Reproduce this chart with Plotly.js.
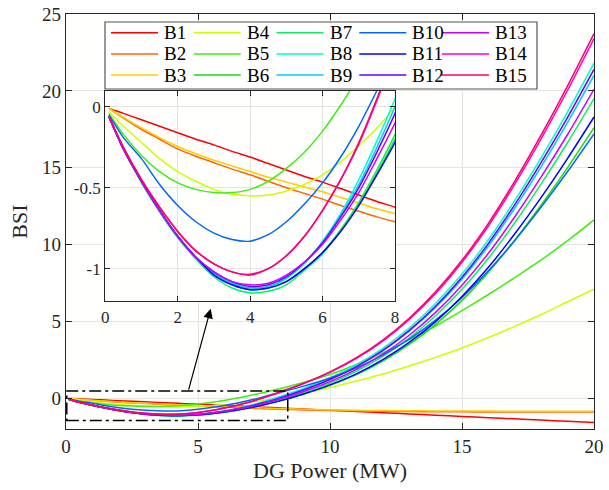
<!DOCTYPE html>
<html>
<head>
<meta charset="utf-8">
<script src="https://cdn.plot.ly/plotly-3.0.1.min.js"></script>
<style>
  html, body { margin: 0; padding: 0; background: #ffffff; }
  #chart { width: 609px; height: 490px; }
</style>
</head>
<body>
<div id="chart"></div>
<script>
// DG power sample points (MW)
const power = [0.1, 0.5, 1, 1.5, 2, 2.5, 3, 3.5, 4, 4.5, 5, 5.5, 6, 6.5, 7, 7.5, 8,
               9, 10, 11, 12, 13, 14, 15, 16, 17, 18, 19, 20];

const busNames = ['B1','B2','B3','B4','B5','B6','B7','B8','B9','B10','B11','B12','B13','B14','B15'];

const busColors = ['#ff0000','#ff6600','#ffcc00','#ccff00','#40ee10','#10e010','#10ee60','#00ffcc',
                   '#00ccff','#0066ff','#0000ff','#6600ff','#cc00ff','#ff00cc','#ff0066'];

// BSI of each bus versus DG power
const bsiB1  = [-0.01,-0.04,-0.08,-0.12,-0.16,-0.20,-0.235,-0.275,-0.31,-0.35,-0.39,-0.43,-0.465,-0.505,-0.545,-0.585,-0.62,
                -0.70,-0.78,-0.86,-0.94,-1.02,-1.10,-1.18,-1.26,-1.34,-1.42,-1.50,-1.58];
const bsiB2  = [-0.01,-0.07,-0.14,-0.20,-0.26,-0.305,-0.345,-0.385,-0.42,-0.46,-0.50,-0.535,-0.57,-0.61,-0.645,-0.68,-0.71,
                -0.76,-0.80,-0.83,-0.85,-0.865,-0.875,-0.885,-0.89,-0.895,-0.90,-0.90,-0.90];
const bsiB3  = [-0.01,-0.065,-0.13,-0.19,-0.245,-0.29,-0.33,-0.365,-0.40,-0.435,-0.465,-0.495,-0.525,-0.56,-0.595,-0.63,-0.66,
                -0.71,-0.75,-0.78,-0.80,-0.815,-0.825,-0.83,-0.835,-0.84,-0.84,-0.845,-0.845];
const bsiB4  = [-0.03,-0.12,-0.22,-0.32,-0.40,-0.46,-0.51,-0.54,-0.55,-0.545,-0.52,-0.48,-0.42,-0.34,-0.24,-0.13,0.00,
                0.33,0.70,1.12,1.58,2.10,2.66,3.27,3.95,4.68,5.45,6.28,7.10];
const bsiB5  = [-0.04,-0.17,-0.30,-0.40,-0.47,-0.51,-0.53,-0.53,-0.51,-0.46,-0.38,-0.28,-0.15,0.01,0.19,0.38,0.58,
                1.02,1.55,2.20,2.95,3.80,4.70,5.70,6.75,7.85,9.00,10.25,11.60];
const bsiB6  = [-0.06,-0.26,-0.46,-0.64,-0.80,-0.93,-1.03,-1.10,-1.13,-1.12,-1.08,-1.00,-0.90,-0.76,-0.60,-0.41,-0.20,
                0.28,0.84,1.54,2.42,3.50,4.81,6.37,8.20,10.29,12.58,15.01,17.60];
const bsiB7  = [-0.06,-0.26,-0.47,-0.65,-0.81,-0.94,-1.05,-1.12,-1.15,-1.14,-1.10,-1.01,-0.91,-0.76,-0.59,-0.39,-0.17,
                0.36,0.98,1.76,2.72,3.92,5.37,7.09,9.11,11.42,13.95,16.64,19.50];
const bsiB8  = [-0.06,-0.26,-0.46,-0.64,-0.80,-0.93,-1.04,-1.10,-1.13,-1.12,-1.06,-0.97,-0.83,-0.66,-0.45,-0.21,0.05,
                0.64,1.32,2.18,3.25,4.57,6.17,8.08,10.31,12.87,15.66,18.64,21.80];
const bsiB9  = [-0.06,-0.26,-0.46,-0.64,-0.80,-0.93,-1.03,-1.09,-1.12,-1.11,-1.06,-0.96,-0.84,-0.67,-0.48,-0.25,0.00,
                0.57,1.23,2.06,3.09,4.37,5.91,7.75,9.91,12.38,15.07,17.95,21.00];
const bsiB10 = [-0.05,-0.19,-0.32,-0.48,-0.61,-0.71,-0.78,-0.82,-0.83,-0.79,-0.71,-0.60,-0.47,-0.31,-0.12,0.10,0.33,
                0.79,1.32,1.98,2.81,3.84,5.08,6.56,8.29,10.27,12.44,14.75,17.20];
const bsiB11 = [-0.06,-0.26,-0.46,-0.64,-0.80,-0.93,-1.04,-1.10,-1.13,-1.12,-1.08,-1.00,-0.90,-0.77,-0.61,-0.42,-0.22,
                0.28,0.87,1.59,2.51,3.63,4.99,6.62,8.52,10.70,13.07,15.61,18.30];
const bsiB12 = [-0.06,-0.26,-0.46,-0.64,-0.80,-0.93,-1.02,-1.08,-1.11,-1.10,-1.05,-0.96,-0.84,-0.68,-0.50,-0.28,-0.04,
                0.54,1.22,2.06,3.11,4.42,5.99,7.87,10.08,12.60,15.35,18.28,21.40];
const bsiB13 = [-0.06,-0.26,-0.46,-0.64,-0.80,-0.93,-1.02,-1.08,-1.10,-1.09,-1.04,-0.96,-0.85,-0.70,-0.53,-0.32,-0.10,
                0.44,1.08,1.88,2.87,4.10,5.59,7.36,9.43,11.81,14.40,17.16,20.10];
const bsiB14 = [-0.06,-0.25,-0.45,-0.62,-0.77,-0.89,-0.97,-1.02,-1.04,-1.00,-0.92,-0.80,-0.64,-0.45,-0.23,0.04,0.33,
                0.95,1.68,2.59,3.72,5.13,6.82,8.85,11.21,13.93,16.89,20.04,23.40];
const bsiB15 = [-0.06,-0.25,-0.45,-0.62,-0.77,-0.89,-0.97,-1.02,-1.035,-1.00,-0.92,-0.80,-0.64,-0.45,-0.22,0.05,0.35,
                0.98,1.72,2.64,3.79,5.21,6.93,8.98,11.38,14.13,17.13,20.33,23.73];

const bsiSeries = [bsiB1, bsiB2, bsiB3, bsiB4, bsiB5, bsiB6, bsiB7, bsiB8, bsiB9, bsiB10,
                   bsiB11, bsiB12, bsiB13, bsiB14, bsiB15];

// tick labels
const mainXTicks = [0, 5, 10, 15, 20];
const mainYTicks = [0, 5, 10, 15, 20, 25];
const zoomXTicks = [0, 2, 4, 6, 8];
const zoomYTicks = [-1, -0.5, 0];
const zoomYLabels = ['-1', '-0.5', '0'];

const FONT = '"Liberation Serif", "Times New Roman", Times, serif';
const AXIS_COLOR = '#262626';
const GRID_COLOR = '#e4e4e4';

// pixel -> paper helpers for the plot area (l=66, r=594, t=14, b=429)
const W = 609, H = 490, ML = 66, MR = 15, MT = 14, MB = 61;
const PW = W - ML - MR, PH = H - MT - MB;
const px = v => (v - ML) / PW;
const py = v => (H - MB - v) / PH;

const traces = [];
bsiSeries.forEach((ys, i) => {
  traces.push({
    type: 'scatter', mode: 'lines', x: power, y: ys, name: busNames[i],
    xaxis: 'x', yaxis: 'y', showlegend: false, hoverinfo: 'skip',
    line: { color: busColors[i], width: 1.5, shape: 'spline', smoothing: 0.7 }
  });
});
bsiSeries.forEach((ys, i) => {
  traces.push({
    type: 'scatter', mode: 'lines', x: power, y: ys, name: busNames[i],
    xaxis: 'x2', yaxis: 'y2', showlegend: false, hoverinfo: 'skip',
    line: { color: busColors[i], width: 1.5, shape: 'spline', smoothing: 0.7 }
  });
});

// legend: 5 columns x 3 rows, filled column by column
const shapes = [];
const annotations = [];
shapes.push({
  type: 'rect', xref: 'paper', yref: 'paper', layer: 'above',
  x0: px(105), x1: px(537), y0: py(89), y1: py(22),
  fillcolor: '#ffffff', line: { color: '#555555', width: 1.2 }
});
busNames.forEach((nm, i) => {
  const col = Math.floor(i / 3), row = i % 3;
  const x0 = 111 + 82.75 * col;
  const yc = 32.7 + 21.2 * row;
  shapes.push({
    type: 'line', xref: 'paper', yref: 'paper', layer: 'above',
    x0: px(x0), x1: px(x0 + 47), y0: py(yc), y1: py(yc),
    line: { color: busColors[i], width: 1.5 }
  });
  annotations.push({
    xref: 'paper', yref: 'paper', x: px(x0 + 51), y: py(yc),
    xanchor: 'left', yanchor: 'middle', showarrow: false, text: nm,
    font: { family: FONT, size: 19, color: '#000000' }
  });
});

// zoomed region marker and arrow to the inset
shapes.push({
  type: 'rect', xref: 'x', yref: 'y', layer: 'above',
  x0: 0.03, x1: 8.4, y0: -1.45, y1: 0.47,
  line: { color: '#000000', width: 1.5, dash: '12px,4px,3px,4px' }
});
annotations.push({
  xref: 'x', yref: 'y', axref: 'x', ayref: 'y',
  x: 5.48, y: 5.82, ax: 4.63, ay: 0.47, text: '',
  showarrow: true, arrowhead: 2, arrowsize: 1.6, arrowwidth: 1.2,
  arrowcolor: '#000000', standoff: 0, startstandoff: 0
});

const axisCommon = {
  showline: true, linecolor: AXIS_COLOR, linewidth: 1.2, mirror: 'ticks',
  ticks: 'inside', tickcolor: AXIS_COLOR, tickwidth: 1,
  showgrid: true, gridcolor: GRID_COLOR, gridwidth: 1,
  zeroline: false, tickfont: { family: FONT, color: AXIS_COLOR }
};

const layout = {
  width: W, height: H,
  font: { family: FONT, color: AXIS_COLOR },
  margin: { l: ML, r: MR, t: MT, b: MB, pad: 0 },
  paper_bgcolor: '#ffffff', plot_bgcolor: '#fffffe',
  showlegend: false,
  xaxis: Object.assign({}, axisCommon, {
    domain: [0, 1], range: [0, 20], tickvals: mainXTicks, ticklen: 6,
    tickfont: { family: FONT, size: 19, color: AXIS_COLOR },
    title: { text: 'DG Power (MW)', font: { family: FONT, size: 22, color: AXIS_COLOR }, standoff: 6 },
    anchor: 'y'
  }),
  yaxis: Object.assign({}, axisCommon, {
    domain: [0, 1], range: [-2, 25], tickvals: mainYTicks, ticklen: 6,
    tickfont: { family: FONT, size: 19, color: AXIS_COLOR },
    title: { text: 'BSI', font: { family: FONT, size: 22, color: AXIS_COLOR }, standoff: 8 },
    anchor: 'x'
  }),
  xaxis2: Object.assign({}, axisCommon, {
    domain: [px(105.3), px(395)], range: [0, 8], tickvals: zoomXTicks, ticklen: 5,
    tickfont: { family: FONT, size: 17, color: AXIS_COLOR }, anchor: 'y2'
  }),
  yaxis2: Object.assign({}, axisCommon, {
    domain: [py(301), py(90.7)], range: [-1.2, 0.1], tickvals: zoomYTicks, ticktext: zoomYLabels,
    ticklen: 5, tickfont: { family: FONT, size: 17, color: AXIS_COLOR }, anchor: 'x2'
  }),
  shapes: shapes,
  annotations: annotations
};

Plotly.newPlot('chart', traces, layout, { staticPlot: true, displayModeBar: false });
</script>
</body>
</html>
